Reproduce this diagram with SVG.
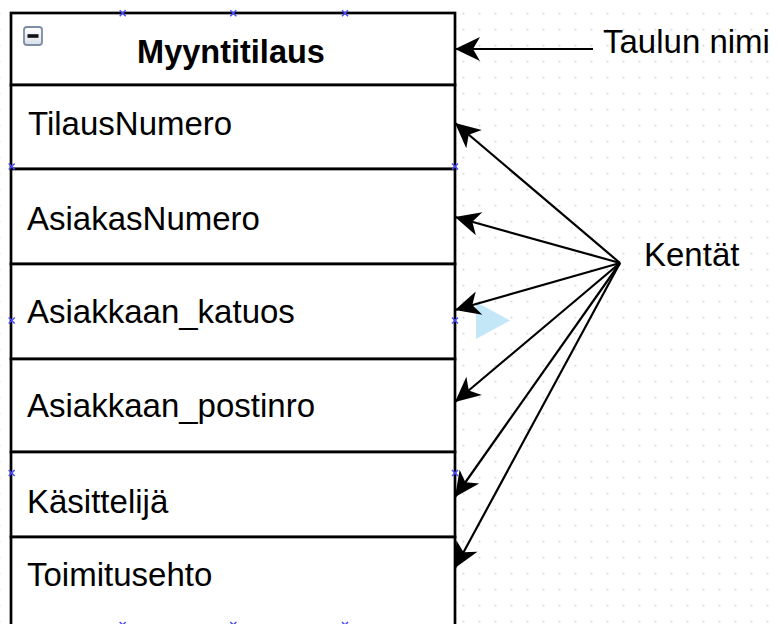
<svg xmlns="http://www.w3.org/2000/svg" width="778" height="624" viewBox="0 0 778 624">
  <style>
    .cell { fill: #ffffff; stroke: #000000; stroke-width: 2.7; }
    .txt { font-family: "Liberation Sans", Arial, sans-serif; font-size: 33px; fill: #000000; }
    .title { font-family: "Liberation Sans", Arial, sans-serif; font-size: 32.5px; font-weight: bold; fill: #000000; }
    .edge { fill: none; stroke: #000000; stroke-width: 2.2; marker-end: url(#arrow); }
    .handle { stroke: #4a4aff; stroke-width: 1.5; fill: none; }
  </style>
  <defs>
    <pattern id="grid" x="462.6" y="12.8" width="16" height="16" patternUnits="userSpaceOnUse">
      <rect x="0" y="0" width="1.5" height="1.5" fill="#c8c8c8"/>
    </pattern>
    <marker id="arrow" markerUnits="userSpaceOnUse" viewBox="-26 -13 28 26" markerWidth="28" markerHeight="26" refX="0" refY="0" orient="auto">
      <path d="M0,0 L-25,-12 L-18,0 L-25,12 Z" fill="#000000"/>
    </marker>
    <linearGradient id="iconFill" x1="0" y1="0" x2="0" y2="1">
      <stop offset="0" stop-color="#ffffff"/>
      <stop offset="1" stop-color="#d9e0e8"/>
    </linearGradient>
    <path id="xmark" d="M-3,-3 L3,3 M-3,3 L3,-3"/>
  </defs>

  <!-- canvas with dotted grid -->
  <rect x="0" y="0" width="778" height="624" fill="#ffffff"/>
  <rect x="0" y="0" width="778" height="624" fill="url(#grid)"/>

  <!-- table: Myyntitilaus -->
  <g id="table-myyntitilaus">
    <g id="header">
      <rect class="cell" x="11" y="13" width="444" height="72"/>
      <g id="collapse-icon">
        <rect x="24" y="27" width="18" height="18" rx="3" fill="url(#iconFill)" stroke="#7d8ea4" stroke-width="1.8"/>
        <rect x="27.5" y="34.2" width="11" height="3.6" fill="#111111"/>
      </g>
      <text class="title" x="231" y="63" text-anchor="middle">Myyntitilaus</text>
    </g>
    <g id="row-tilausnumero">
      <rect class="cell" x="11" y="85" width="444" height="84"/>
      <text class="txt" x="28" y="135">TilausNumero</text>
    </g>
    <g id="row-asiakasnumero">
      <rect class="cell" x="11" y="169" width="444" height="95"/>
      <text class="txt" x="27" y="230">AsiakasNumero</text>
    </g>
    <g id="row-asiakkaan-katuos">
      <rect class="cell" x="11" y="264" width="444" height="95"/>
      <text class="txt" x="27" y="323">Asiakkaan_katuos</text>
    </g>
    <g id="row-asiakkaan-postinro">
      <rect class="cell" x="11" y="359" width="444" height="93"/>
      <text class="txt" x="27" y="417">Asiakkaan_postinro</text>
    </g>
    <g id="row-kasittelija">
      <rect class="cell" x="11" y="452" width="444" height="85"/>
      <text class="txt" x="27" y="513">Käsittelijä</text>
    </g>
    <g id="row-toimitusehto">
      <rect class="cell" x="11" y="537" width="444" height="110"/>
      <text class="txt" x="27" y="586">Toimitusehto</text>
    </g>
  </g>

  <!-- selection handles -->
  <g id="selection-handles" class="handle">
    <use href="#xmark" x="122.7" y="13.3"/>
    <use href="#xmark" x="233.3" y="13.3"/>
    <use href="#xmark" x="345" y="13.3"/>
    <use href="#xmark" x="11.7" y="166.5"/>
    <use href="#xmark" x="11.7" y="320.5"/>
    <use href="#xmark" x="11.7" y="473"/>
    <use href="#xmark" x="455" y="166.5"/>
    <use href="#xmark" x="455" y="320.5"/>
    <use href="#xmark" x="455" y="473"/>
    <use href="#xmark" x="122.7" y="625"/>
    <use href="#xmark" x="233.3" y="625"/>
    <use href="#xmark" x="345" y="625"/>
  </g>

  <!-- hover hint triangle -->
  <polygon id="hint" points="476,302 510,320.5 476,339" fill="#c3e7f7"/>

  <!-- labels -->
  <g id="label-taulun-nimi">
    <text class="txt" x="603" y="53">Taulun nimi</text>
  </g>
  <g id="label-kentat">
    <text class="txt" x="644" y="266">Kentät</text>
  </g>

  <!-- connectors -->
  <g id="connectors">
    <path class="edge" d="M593,49 L455,49"/>
    <path class="edge" d="M620,263 L455,123"/>
    <path class="edge" d="M620,263 L455,217"/>
    <path class="edge" d="M620,263 L455,310"/>
    <path class="edge" d="M620,263 L455,402"/>
    <path class="edge" d="M620,263 L455,497"/>
    <path class="edge" d="M620,263 L455,568"/>
  </g>
</svg>
